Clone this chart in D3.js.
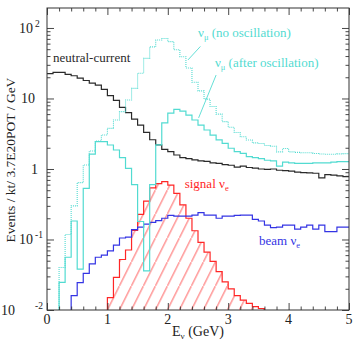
<!DOCTYPE html>
<html><head><meta charset="utf-8">
<script src="https://cdn.jsdelivr.net/npm/d3@7"></script>
<style>body{margin:0;background:#fff}svg{display:block}text{font-family:"Liberation Serif","DejaVu Serif",serif}</style>
</head><body><svg id="c" width="360" height="342"></svg>
<script>
// ---- data (bin width 0.1 GeV) ----
const binWidth = 0.1;
const ncStart = 0.0;
const ncValues = [22.5, 23.5, 23.5, 22, 21, 19.5, 18, 16.5, 15.5, 13.5,
  11, 9.4, 7.5, 6.3, 5.1, 4.2, 3.3, 2.6, 2.2, 1.9,
  1.76, 1.58, 1.45, 1.4, 1.35, 1.3, 1.28, 1.22, 1.2, 1.15,
  1.13, 1.06, 1.1, 1.05, 1.03, 1.0, 0.99, 1.0, 0.96, 0.95,
  0.93, 0.9, 0.89, 0.88, 0.87, 0.75, 0.83, 0.82, 0.8, 0.78];
const numuNoOscStart = 0.2;
const numuNoOscValues = [0.04, 0.118, 0.30, 0.64, 1.14, 1.8, 2.5, 3.03,
  3.77, 4.95, 6.5, 9.5, 13.9, 22.8, 37, 54, 67.5, 71,
  64, 49, 39, 27, 17, 12.8, 9.8, 7.7, 6.0, 4.7,
  3.9, 3.3, 2.87, 2.58, 2.35, 2.3, 2.15, 2.1, 1.75, 1.95,
  1.75, 1.72, 1.7, 1.7, 1.66, 1.63, 1.62, 1.62, 1.64, 1.65];
const numuOscStart = 0.2;
const numuOscValues = [0.0246, 0.056, 0.183, 0.038, 0.53, 1.63, 2.44, 2.44,
  2.19, 1.86, 1.45, 1.02, 0.6, 0.18, 0.036, 0.6, 2.2, 4.5,
  6.2, 7.0, 6.6, 5.8, 4.95, 4.2, 3.57, 3.03, 2.58, 2.31,
  1.97, 1.76, 1.67, 1.5, 1.45, 1.4, 1.33, 1.3, 1.1, 1.25,
  1.22, 1.2, 1.2, 1.2, 1.22, 1.22, 1.22, 1.25, 1.27, 1.27];
const beamNueStart = 0.4;
const beamNueValues = [0.016, 0.0245, 0.033, 0.045, 0.056, 0.06,
  0.069, 0.083, 0.105, 0.108, 0.138, 0.15, 0.165, 0.175, 0.185, 0.2,
  0.22, 0.215, 0.215, 0.215, 0.222, 0.24, 0.222, 0.222, 0.2, 0.215,
  0.215, 0.22, 0.222, 0.222, 0.193, 0.183, 0.16, 0.147, 0.15, 0.16,
  0.16, 0.14, 0.15, 0.16, 0.14, 0.16, 0.129, 0.129, 0.15, 0.15];
const signalNueStart = 1.0;
const signalNueValues = [0.015, 0.029, 0.052, 0.071, 0.135, 0.227, 0.35, 0.54, 0.62, 0.66,
  0.59, 0.45, 0.31, 0.2, 0.133, 0.091, 0.066, 0.049, 0.035, 0.025,
  0.02, 0.016, 0.0138, 0.0124, 0.0112, 0.0105];
const xTickValues = [0, 1, 2, 3, 4, 5];
const yTickLabels = [
  {v: 100, base: "10", exp: "2"},
  {v: 10, base: "10", exp: ""},
  {v: 1, base: "1", exp: ""},
  {v: 0.1, base: "10", exp: "-1"},
  {v: 0.01, base: "10", exp: "-2"}
];

// ---- setup ----
const svg = d3.select("#c");
const yMin = 0.01, yMax = 192;
const x = d3.scaleLinear().domain([0, 5]).range([47, 349]);
const y = d3.scaleLog().domain([yMin, yMax]).range([310, 8]);
const CYAN = "#52dbd1", RED = "#ff2626", BLUE = "#3434e4", BLACK = "#2a2a2a";

svg.append("defs").append("clipPath").attr("id", "clip")
  .append("rect").attr("x", 47).attr("y", 8).attr("width", 302).attr("height", 302);
const pat = svg.select("defs").append("pattern").attr("id", "hatch")
  .attr("patternUnits", "userSpaceOnUse").attr("width", 12).attr("height", 24)
  .attr("x", x(signalNueStart)).attr("y", y(yMin));
pat.append("line").attr("x1", 0).attr("y1", 24).attr("x2", 12).attr("y2", 0)
  .attr("stroke", RED).attr("stroke-width", 0.8);

function stepPoints(start, values, fromBottom, toBottom) {
  const pts = [];
  if (fromBottom) pts.push([start, yMin]);
  values.forEach((v, i) => {
    const lo = start + i * binWidth, hi = lo + binWidth;
    pts.push([lo, v], [hi, v]);
  });
  if (toBottom) pts.push([start + values.length * binWidth, yMin]);
  return pts;
}
const line = d3.line().x(d => x(d[0])).y(d => y(Math.max(d[1], yMin)));

const plot = svg.append("g").attr("clip-path", "url(#clip)");

// signal nu_e hatched
const sigPts = stepPoints(signalNueStart, signalNueValues, true, true);
plot.append("path").attr("d", line(sigPts) + "Z").attr("fill", "url(#hatch)").attr("stroke", "none");
plot.append("path").attr("d", line(sigPts)).attr("fill", "none").attr("stroke", RED).attr("stroke-width", 1.2);
// beam nu_e
plot.append("path").attr("d", line(stepPoints(beamNueStart, beamNueValues, true, false)))
  .attr("fill", "none").attr("stroke", BLUE).attr("stroke-width", 1.2);
// NC
plot.append("path").attr("d", line(stepPoints(ncStart, ncValues, false, false)))
  .attr("fill", "none").attr("stroke", BLACK).attr("stroke-width", 1.2);
// numu no osc (dotted)
plot.append("path").attr("d", line(stepPoints(numuNoOscStart, numuNoOscValues, true, false)))
  .attr("fill", "none").attr("stroke", CYAN).attr("stroke-width", 1.1).attr("stroke-dasharray", "1,1");
// numu osc
plot.append("path").attr("d", line(stepPoints(numuOscStart, numuOscValues, true, false)))
  .attr("fill", "none").attr("stroke", CYAN).attr("stroke-width", 1.2);

// ---- axes ----
const minorX = d3.range(0, 5.001, 0.2).filter(v => Math.abs(v - Math.round(v)) > 1e-6);
const minorY = [];
[-2, -1, 0, 1, 2].forEach(e => { for (let k = 2; k <= 9; k++) { const v = k * Math.pow(10, e); if (v <= yMax) minorY.push(v); } });
const majY = [0.01, 0.1, 1, 10, 100];

function axisG(ax, tr) {
  const g = svg.append("g").attr("transform", tr).call(ax);
  g.select(".domain").remove();
  g.selectAll("text").remove();
  g.selectAll("line").attr("stroke", "#333").attr("stroke-width", 0.9);
  return g;
}
axisG(d3.axisBottom(x).tickValues(xTickValues).tickSize(-7), "translate(0,310)");
axisG(d3.axisBottom(x).tickValues(minorX).tickSize(-3.5), "translate(0,310)");
axisG(d3.axisTop(x).tickValues(xTickValues).tickSize(-7), "translate(0,8)");
axisG(d3.axisTop(x).tickValues(minorX).tickSize(-3.5), "translate(0,8)");
axisG(d3.axisLeft(y).tickValues(majY).tickSize(-7), "translate(47,0)");
axisG(d3.axisLeft(y).tickValues(minorY).tickSize(-3.5), "translate(47,0)");
axisG(d3.axisRight(y).tickValues(majY).tickSize(-7), "translate(349,0)");
axisG(d3.axisRight(y).tickValues(minorY).tickSize(-3.5), "translate(349,0)");

svg.append("rect").attr("x", 47).attr("y", 8).attr("width", 302).attr("height", 302)
  .attr("fill", "none").attr("stroke", "#333").attr("stroke-width", 1);

// tick labels
svg.append("g").selectAll("text").data(xTickValues).join("text")
  .attr("x", d => x(d)).attr("y", 324).attr("text-anchor", "middle")
  .attr("font-size", 14).attr("fill", "#222").text(d => d);

const yl = svg.append("g").attr("fill", "#222");
yTickLabels.forEach(d => {
  const ty = y(d.v);
  const baseX = d.exp === "" ? (d.base === "1" ? 38 : 35) : (d.v === 0.01 ? 15 : 33);
  yl.append("text").attr("x", baseX).attr("y", ty + 5).attr("text-anchor", "end")
    .attr("font-size", 14).text(d.base);
  if (d.exp) {
    yl.append("text").attr("x", 35).attr("y", ty - 1).attr("text-anchor", "start")
      .attr("font-size", 9.5).text(d.exp);
  }
});

// axis titles
const xt = svg.append("text").attr("x", x(2.5)).attr("y", 336).attr("text-anchor", "middle")
  .attr("font-size", 14).attr("fill", "#222");
xt.append("tspan").text("E");
xt.append("tspan").attr("font-size", 9).attr("dy", 3).text("ν");
xt.append("tspan").attr("dy", -3).text(" (GeV)");

svg.append("text").attr("transform", "translate(15,160) rotate(-90)").attr("text-anchor", "middle")
  .attr("font-size", 13.5).attr("fill", "#222")
  .text("Events / kt/ 3.7E20POT / GeV");

// annotations
function label(e, v, color, main, sub, rest) {
  const t = svg.append("text").attr("x", x(e)).attr("y", y(v))
    .attr("font-size", 13).attr("fill", color);
  t.append("tspan").text(main);
  if (sub) {
    t.append("tspan").attr("font-size", 8.5).attr("dy", 3).text(sub);
    t.append("tspan").attr("dy", -3).text(rest || "");
  }
}
label(0.1, 10 ** ((169 - 62) / 70.5), BLACK, "neutral-current");
label(2.5, 10 ** ((169 - 37.5) / 70.5), CYAN, "ν", "μ", " (no oscillation)");
label(2.78, 10 ** ((169 - 67) / 70.5), CYAN, "ν", "μ", " (after oscillation)");
label(2.28, 10 ** ((169 - 188) / 70.5), RED, "signal ν", "e", "");
label(3.51, 10 ** ((169 - 245) / 70.5), BLUE, "beam ν", "e", "");

// leader lines
const leaders = [
  [[2.54, 54.7], [2.334, 35.2]],
  [[2.80, 21.5], [2.51, 5.3]]
];
leaders.forEach(l => svg.append("line")
  .attr("x1", x(l[0][0])).attr("y1", y(l[0][1])).attr("x2", x(l[1][0])).attr("y2", y(l[1][1]))
  .attr("stroke", CYAN).attr("stroke-width", 0.9));
</script></body></html>
